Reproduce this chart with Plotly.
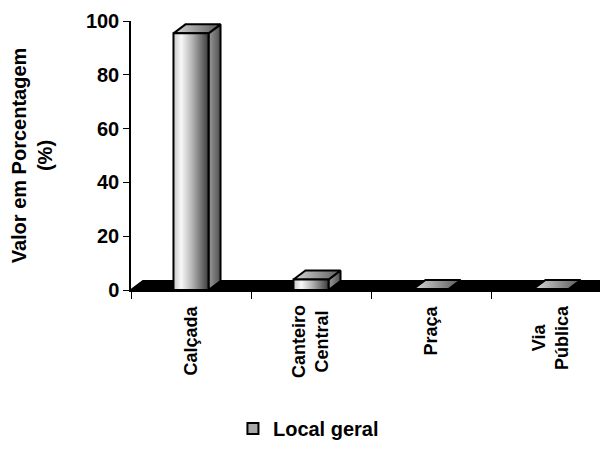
import plotly.graph_objects as go

categories = ["Calçada", "Canteiro<br>Central", "Praça", "Via<br>Pública"]
values = [95.4, 3.9, 0.35, 0.35]
series_name = "Local geral"
y_ticks = [0, 20, 40, 60, 80, 100]

FONT = "Liberation Sans, Arial, sans-serif"
half_w = 0.146      # half bar width (category units)
dx = 0.10           # 3D depth offset in x (category units)
dy = 3.35           # 3D depth offset in y (value units)

front_scale = [[0, "#c8c8c8"], [0.22, "#f8f8f8"], [0.55, "#b0b0b0"], [1, "#3c3c3c"]]
side_scale = [[0, "#9a9a9a"], [1, "#505050"]]
top_scale = [[0, "#d8d8d8"], [1, "#5a5a5a"]]

fig = go.Figure()

def poly(xs, ys, scale=None, color=None):
    kw = dict(x=xs + [xs[0]], y=ys + [ys[0]], mode="lines", fill="toself",
              line=dict(color="black", width=2), hoverinfo="skip", showlegend=False)
    if scale is not None:
        kw["fillgradient"] = dict(type="horizontal", colorscale=scale)
    else:
        kw["fillcolor"] = color
    fig.add_trace(go.Scatter(**kw))

# floor
x0, x1 = -0.5, len(categories) - 0.5 + 0.3
poly([x0, x1, x1 + dx, x0 + dx], [0, 0, dy, dy], color="black")

# bars
for i, v in enumerate(values):
    l, r = i - half_w, i + half_w
    poly([r, r + dx, r + dx, r], [0, dy, v + dy, v], scale=side_scale)
    poly([l, l + dx, r + dx, r], [v, v + dy, v + dy, v], scale=top_scale)
    poly([l, r, r, l], [0, 0, v, v], scale=front_scale)

# legend entry
fig.add_trace(go.Scatter(x=[None], y=[None], mode="markers", name=series_name,
                         marker=dict(symbol="square", size=11, color="#a8a8a8",
                                     line=dict(color="black", width=2)),
                         showlegend=True))

# category labels
for i, c in enumerate(categories):
    fig.add_annotation(x=i, y=-0.05, xref="x", yref="paper", text=c,
                       textangle=-90, xanchor="center", yanchor="top",
                       showarrow=False, align="center",
                       font=dict(family=FONT, size=18, color="black", weight="bold"))

FW, FH = 600, 449   # page has an 8px body margin
L = 123
W = FW - L
fig.update_layout(
    width=FW, height=FH,
    margin=dict(l=L, r=0, t=13, b=167),
    paper_bgcolor="white", plot_bgcolor="white",
    showlegend=True,
    legend=dict(orientation="h", x=0.372, xanchor="center", y=-0.515, yanchor="middle",
                font=dict(family=FONT, size=20, color="black", weight="bold"),
                itemwidth=30),
    xaxis=dict(range=[-0.5, -0.5 + W / 120], tickvals=[-0.5, 0.5, 1.5, 2.5, 3.5],
               showticklabels=False, ticks="outside", ticklen=7, tickcolor="black",
               showline=True, linecolor="black", linewidth=1.5, showgrid=False,
               zeroline=False, fixedrange=True),
    yaxis=dict(range=[0, 100], tickvals=y_ticks, ticks="outside", ticklen=6,
               tickcolor="black", showline=True, linecolor="black", linewidth=1.5,
               showgrid=False, zeroline=False,
               tickfont=dict(family=FONT, size=20, color="black", weight="bold"),
               title=dict(text="Valor em Porcentagem<br>(%)", standoff=28,
                          font=dict(family=FONT, size=20, color="black", weight="bold"))),
)

fig.write_html("out.html")
